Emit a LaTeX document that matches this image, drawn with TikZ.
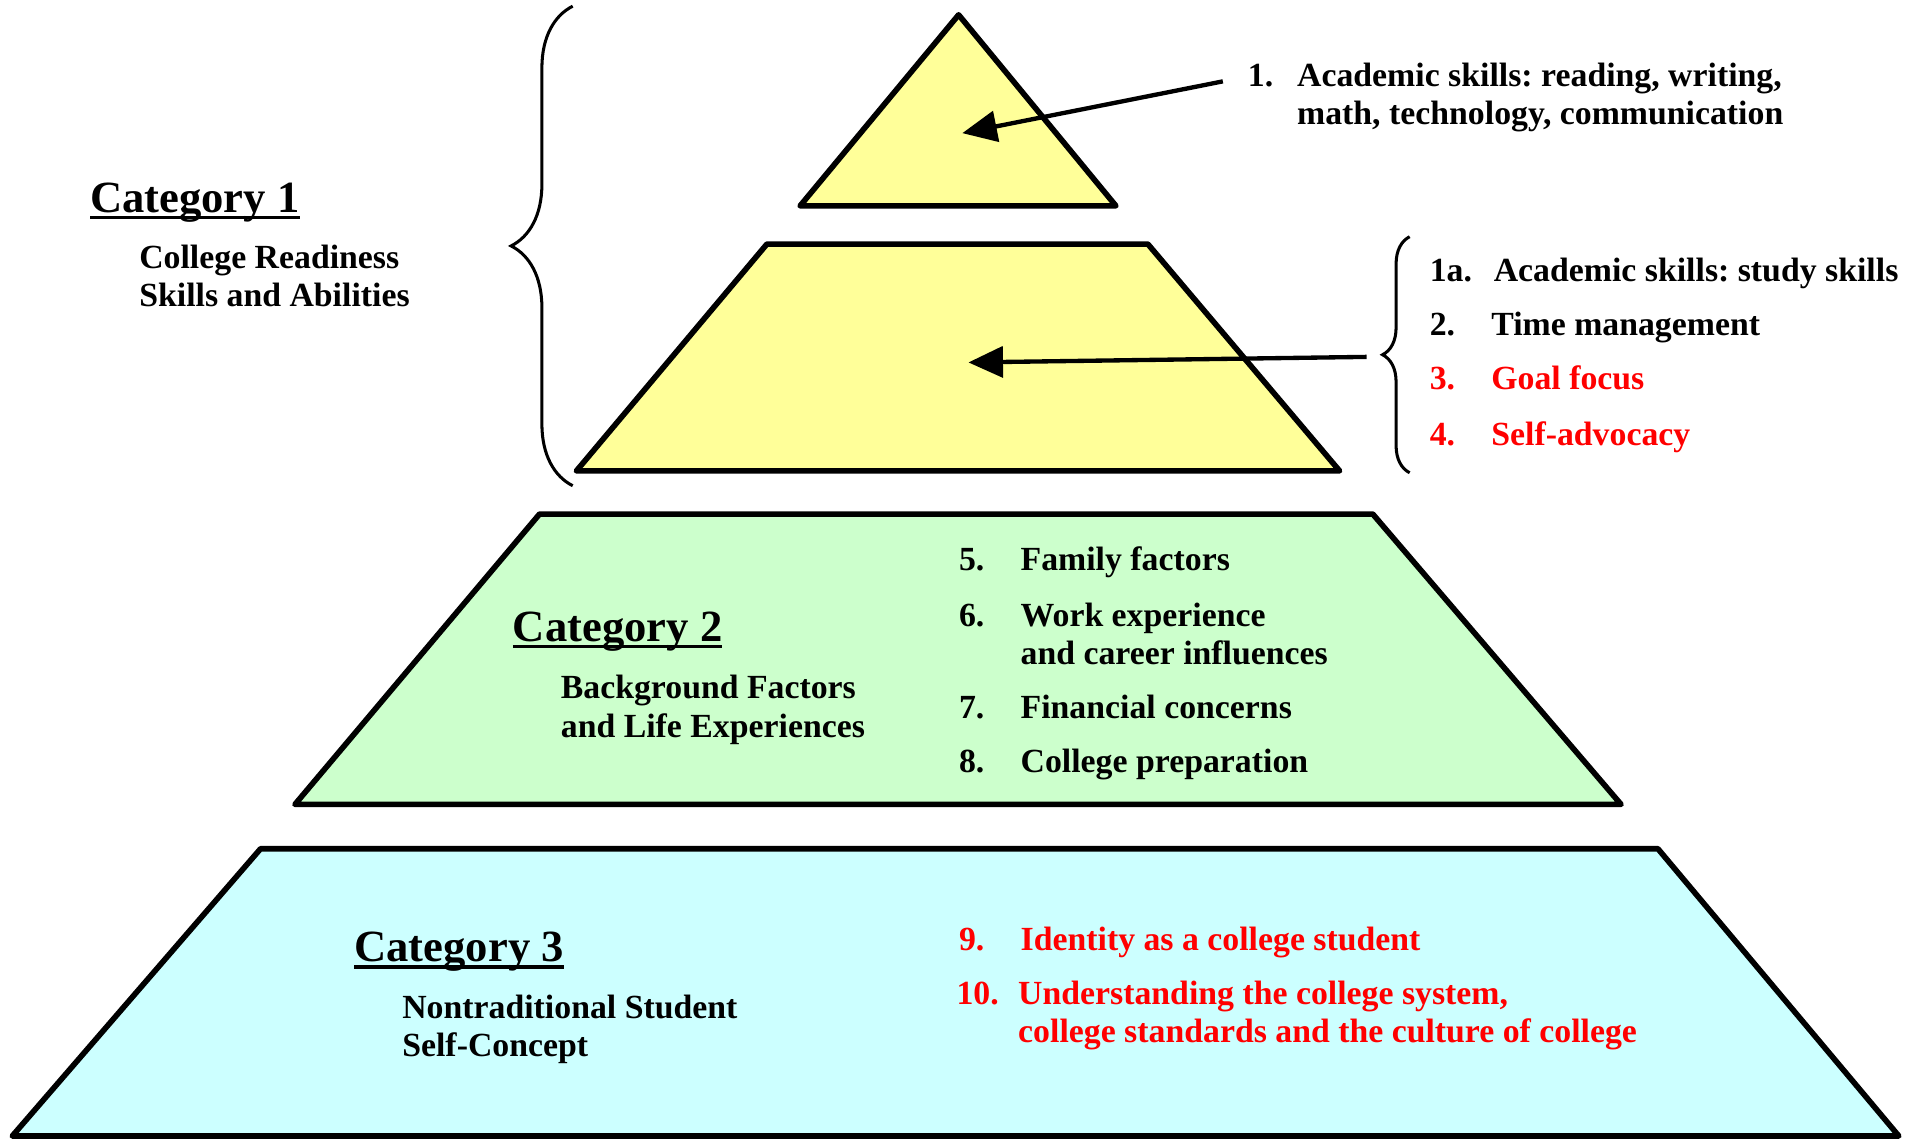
\documentclass[tikz,border=0pt]{standalone}
\usepackage{fontspec}
\setmainfont{Liberation Serif}
\usetikzlibrary{arrows.meta,decorations.pathreplacing}
\definecolor{tipyellow}{HTML}{FFFF99}
\definecolor{midgreen}{HTML}{CCFFCC}
\definecolor{basecyan}{HTML}{CCFFFF}
\frenchspacing
\newcommand{\catline}[1]{\setbox0\hbox{#1}\rlap{\rule[-3.4pt]{\wd0}{1.6pt}}\box0}
\newcommand{\stack}[1]{\begin{tabular}[t]{@{}l@{}}#1\end{tabular}}
\newcommand{\itm}[3]{\makebox[#1][l]{#2}\stack{#3}}

\begin{document}
\begin{tikzpicture}[x=0.01994cm,y=-0.02cm,
	tier/.style={draw,line width=2.6pt,line join=round},
	txt/.style={anchor=base west,inner sep=0pt,font=\bfseries\fontsize{15.6}{17.6}\selectfont},
	cat/.style={anchor=base west,inner sep=0pt,font=\bfseries\fontsize{20.6}{24}\selectfont},
	pointer/.style={line width=2pt,-{Triangle[length=0.56cm,width=0.5cm]}},
	brc/.style={decorate,decoration={brace,amplitude=#1},line width=1.4pt}]
\useasboundingbox (0,0) rectangle (1564.7,926.4);

\draw[tier,fill=basecyan] (212,688.5) -- (1349,688.5) -- (1545,921.5) -- (10,921.5) -- cycle;
\draw[tier,fill=midgreen] (439,417) -- (1117,417) -- (1319,652.5) -- (240,652.5) -- cycle;
\draw[tier,fill=tipyellow] (624,198) -- (934,198) -- (1090,382) -- (469,382) -- cycle;
\draw[tier,fill=tipyellow] (780,12) -- (908,167) -- (651,167) -- cycle;

\draw[brc=1cm] (466,394) -- (466,5);
\draw[brc=0.44cm] (1147,383.5) -- (1147,192);

\node[cat] (cat1) at (73,172) {\catline{Category 1}};
\node[txt] (cat1txt) at (113,218) {\stack{College Readiness\\Skills and Abilities}};
\node[cat] (cat2) at (417,520) {\catline{Category 2}};
\node[txt] (cat2txt) at (456,567) {\stack{Background Factors\\and Life Experiences}};
\node[cat] (cat3) at (288,780) {\catline{Category 3}};
\node[txt] (cat3txt) at (327,826) {\stack{Nontraditional Student\\Self-Concept}};

\node[txt] (i1) at (1015,70) {\itm{0.8cm}{1.}{Academic skills: reading, writing,\\math, technology, communication}};
\node[txt] (i1a) at (1163,228) {\itm{1.04cm}{1a.}{Academic skills: study skills}};
\node[txt] (i2) at (1163,272) {\itm{1cm}{2.}{Time management}};
\node[txt,red] (i3) at (1163,316) {\itm{1cm}{3.}{Goal focus}};
\node[txt,red] (i4) at (1163,361) {\itm{1cm}{4.}{Self-advocacy}};
\node[txt] (i5) at (780,463) {\itm{1cm}{5.}{Family factors}};
\node[txt] (i6) at (780,508) {\itm{1cm}{6.}{Work experience\\and career influences}};
\node[txt] (i7) at (780,583) {\itm{1cm}{7.}{Financial concerns}};
\node[txt] (i8) at (780,627) {\itm{1cm}{8.}{College preparation}};
\node[txt,red] (i9) at (780,771) {\itm{1cm}{9.}{Identity as a college student}};
\node[txt,red] (i10) at (778,815) {\itm{1cm}{10.}{Understanding the college system,\\college standards and the culture of college}};

\coordinate (s1) at (995,66);
\coordinate (p1) at (783,108);
\coordinate (s2) at (1112,289.5);
\coordinate (p2) at (788,294);
\draw[pointer] (s1) -- (p1);
\draw[pointer] (s2) -- (p2);
\end{tikzpicture}
\end{document}
